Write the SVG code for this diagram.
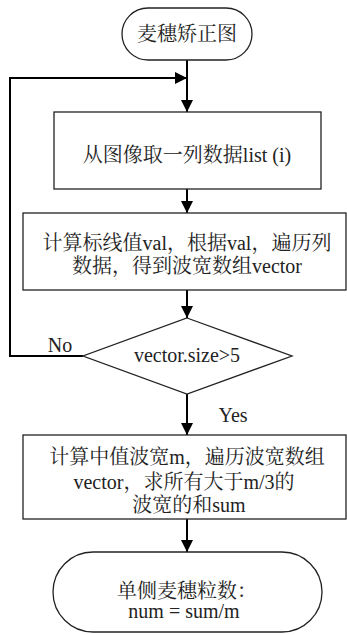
<svg xmlns="http://www.w3.org/2000/svg" width="347" height="635" viewBox="0 0 347 635">
<style>
.shape{fill:#fff;stroke:#222;stroke-width:1.3}
.t{font-family:"Liberation Serif","Noto Serif CJK SC","Noto Sans CJK SC",serif;font-size:20px;fill:#222;text-anchor:middle}
.c{fill:none;stroke:#000;stroke-width:2}
</style>
<defs>
<marker id="ah" viewBox="0 0 12 12" refX="12" refY="6" markerWidth="12" markerHeight="12" markerUnits="userSpaceOnUse" orient="auto">
<path d="M0,0 L12,6 L0,12 Z" fill="#000"/>
</marker>
</defs>
<rect width="347" height="635" fill="#fff"/>
<g id="connectors">
<line class="c" x1="187" y1="60" x2="187" y2="112" marker-end="url(#ah)"/>
<line class="c" x1="187" y1="189" x2="187" y2="213" marker-end="url(#ah)"/>
<line class="c" x1="187" y1="290" x2="187" y2="318" marker-end="url(#ah)"/>
<line class="c" x1="187" y1="394" x2="187" y2="435" marker-end="url(#ah)"/>
<line class="c" x1="187" y1="519" x2="187" y2="552" marker-end="url(#ah)"/>
<polyline class="c" points="83,356 10,356 10,78 187,78" marker-end="url(#ah)"/>
<text class="t" x="60" y="352">No</text>
<text class="t" x="233" y="422">Yes</text>
</g>
<g id="start">
<rect class="shape" x="122" y="8" width="130" height="52" rx="26"/>
<text class="t" x="187" y="41">麦穗矫正图</text>
</g>
<g id="box1">
<rect class="shape" x="54" y="112" width="267" height="77"/>
<text class="t" x="187" y="162">从图像取一列数据list (i)</text>
</g>
<g id="box2">
<rect class="shape" x="23" y="213" width="323" height="77"/>
<text class="t" x="187" y="250">计算标线值val，根据val，遍历列</text>
<text class="t" x="187" y="273">数据，得到波宽数组vector</text>
</g>
<g id="decision">
<polygon class="shape" points="187,318 292,356 187,394 83,356"/>
<text class="t" x="187" y="362">vector.size&gt;5</text>
</g>
<g id="box3">
<rect class="shape" x="23" y="435" width="323" height="84"/>
<text class="t" x="187" y="464">计算中值波宽m，遍历波宽数组</text>
<text class="t" x="184" y="489">vector，求所有大于m/3的</text>
<text class="t" x="189" y="512">波宽的和sum</text>
</g>
<g id="end">
<rect class="shape" x="53" y="552" width="269" height="80" rx="40"/>
<text class="t" x="187" y="598">单侧麦穗粒数：</text>
<text class="t" x="184" y="618">num = sum/m</text>
</g>
</svg>
